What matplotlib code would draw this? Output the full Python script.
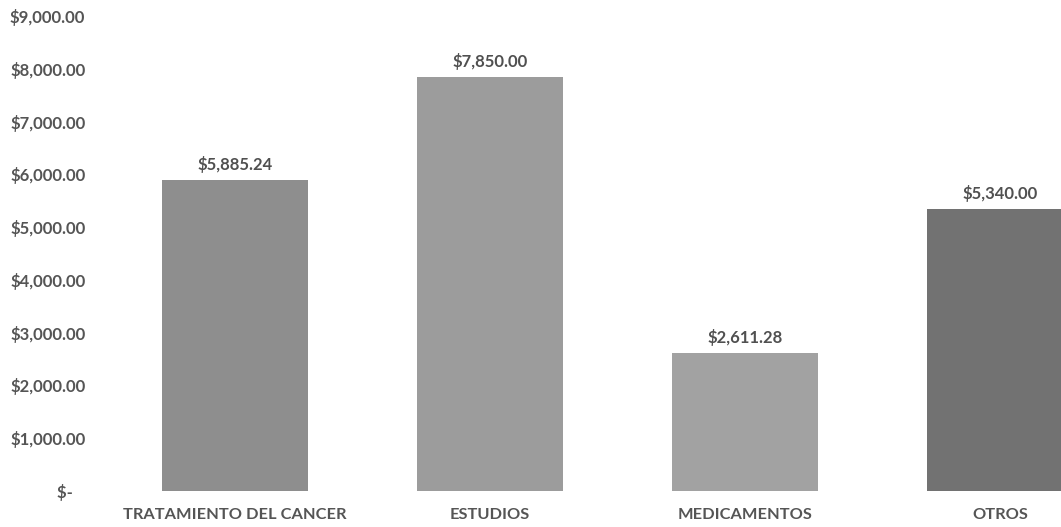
import numpy as np
import matplotlib
matplotlib.use("Agg")
from matplotlib import pyplot as plt

categorias = ["TRATAMIENTO DEL CANCER", "ESTUDIOS", "MEDICAMENTOS", "OTROS"]
montos = [5885.24, 7850.00, 2611.28, 5340.00]
etiquetas = ["$5,885.24", "$7,850.00", "$2,611.28", "$5,340.00"]
ticks_y = [0, 1000, 2000, 3000, 4000, 5000, 6000, 7000, 8000, 9000]
ticks_y_txt = ["$-   ", "$1,000.00", "$2,000.00", "$3,000.00", "$4,000.00",
               "$5,000.00", "$6,000.00", "$7,000.00", "$8,000.00", "$9,000.00"]
colores = ["#8e8e8e", "#9c9c9c", "#a2a2a2", "#727272"]

plt.rcParams["font.family"] = ["Lato", "DejaVu Sans"]
plt.rcParams["font.weight"] = "bold"

fig = plt.figure(figsize=(10.61, 5.27), dpi=100)
ax = fig.add_axes([107.5 / 1061, 36 / 527, (1061 - 107.5) / 1061, 475 / 527])

x = np.arange(len(categorias))
ax.bar(x, montos, width=0.57, color=colores, edgecolor="none")

for xi, v, txt in zip(x, montos, etiquetas):
    ax.annotate(txt, (xi, v), xytext=(0, 5), textcoords="offset points",
                ha="center", va="bottom", fontsize=12, color="#505050",
                fontweight="bold")

ax.set_xlim(-0.5, 3.24)
ax.set_ylim(0, 9000)
ax.set_yticks(ticks_y)
ax.set_yticklabels(ticks_y_txt)
ax.set_xticks(x)
ax.set_xticklabels(categorias)
ax.tick_params(axis="y", length=0, pad=16, labelsize=12, labelcolor="#555555")
ax.tick_params(axis="x", length=0, pad=12, labelsize=11.8, labelcolor="#555555")
for s in ax.spines.values():
    s.set_visible(False)

fig.savefig("out.png", dpi=100)
